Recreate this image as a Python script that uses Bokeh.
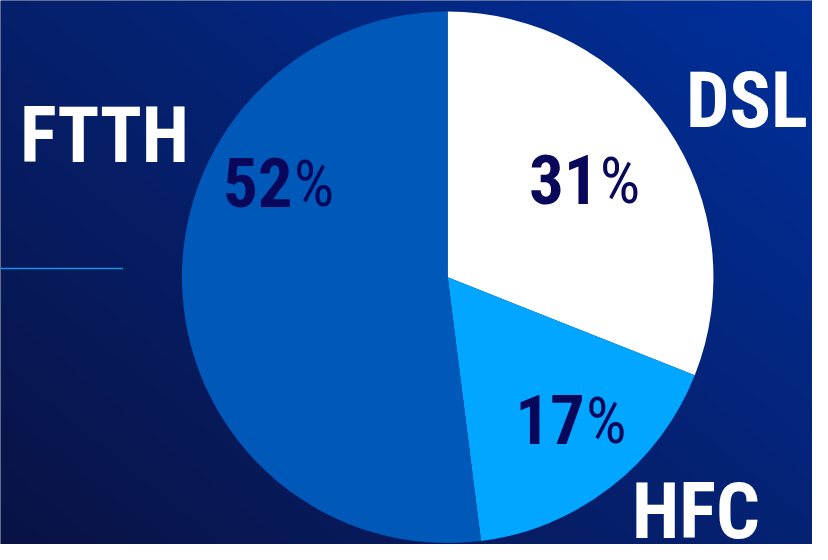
import numpy as np
from bokeh.plotting import figure
from bokeh.models import Range1d, ColumnDataSource
from bokeh.core.properties import value
from bokeh.embed import file_html
from bokeh.resources import INLINE

# ---- data ----
categories = ["DSL", "HFC", "FTTH"]
shares = [31, 17, 52]
slice_colors = ["#ffffff", "#00a6ff", "#0058b9"]

# ---- layout (reference pixel space, y measured from top) ----
W, H = 828, 560
cx, cy, r = 456, 285, 271
cat_label_pos = {"DSL": (699, 132), "HFC": (644, 555), "FTTH": (20, 168)}
pct_anchor = {"DSL": (610, 210), "HFC": (596, 457), "FTTH": (298, 213)}

FONT = value("Roboto Condensed")
LAB_PX, NUM_PX, PCT_PX = 77, 69, 64

p = figure(width=812, height=544, x_range=Range1d(0, W), y_range=Range1d(0, H),
           output_backend="svg", toolbar_location=None, min_border=0)
p.axis.visible = False
p.grid.visible = False
p.outline_line_color = None
p.background_fill_color = "#07164f"
p.border_fill_color = "#07164f"

# background gradient (decoration)
gh, gw = 280, 414
yy, xx = np.mgrid[0:gh, 0:gw]
t = np.clip(0.55 * xx / (gw - 1) + 0.45 * yy / (gh - 1), 0, 1)
c0 = np.array([10, 18, 68])
c1 = np.array([0, 48, 156])
rgb = (c0[None, None, :] * (1 - t[..., None]) + c1[None, None, :] * t[..., None]).astype(np.uint32)
img = (255 << 24) | (rgb[..., 2] << 16) | (rgb[..., 1] << 8) | rgb[..., 0]
p.image_rgba(image=[img.astype(np.uint32)], x=0, y=0, dw=W, dh=H)

# decorative line on the left
p.line(x=[0, 125], y=[H - 276, H - 276], line_color="#1f8fe6", line_width=1.5)

# pie wedges
fr = np.array(shares) / sum(shares)
ends = np.cumsum(fr)
starts = ends - fr
start_angle = np.pi / 2 - starts * 2 * np.pi
end_angle = np.pi / 2 - ends * 2 * np.pi
src = ColumnDataSource(dict(cat=categories, start=start_angle, end=end_angle, color=slice_colors))
p.wedge(x=cx, y=H - cy, radius=r, start_angle="start", end_angle="end",
        direction="clock", fill_color="color", line_color=None, source=src)

# category labels
lab = ColumnDataSource(dict(
    x=[cat_label_pos[c][0] for c in categories],
    y=[H - cat_label_pos[c][1] for c in categories],
    t=categories))
p.text(x="x", y="y", text="t", source=lab, text_color="white", text_font=FONT,
       text_font_style="bold", text_font_size=f"{LAB_PX}px", text_align="left",
       text_baseline="alphabetic", y_offset=-round(0.36 * LAB_PX))

# percentage labels: bold number + lighter %
pct = ColumnDataSource(dict(
    x=[pct_anchor[c][0] for c in categories],
    y=[H - pct_anchor[c][1] for c in categories],
    n=[str(v) for v in shares],
    s=["%"] * len(shares)))
p.text(x="x", y="y", text="n", source=pct, text_color="#08075a", text_font=FONT,
       text_font_style="bold", text_font_size=f"{NUM_PX}px", text_align="right",
       text_baseline="alphabetic", y_offset=-round(0.36 * NUM_PX))
p.text(x="x", y="y", text="s", source=pct, text_color="#08075a", text_font=FONT,
       text_font_style="normal", text_font_size=f"{PCT_PX}px", text_align="left",
       text_baseline="alphabetic", x_offset=1, y_offset=-round(0.36 * PCT_PX))

open("out.html", "w").write(file_html(p, INLINE))
